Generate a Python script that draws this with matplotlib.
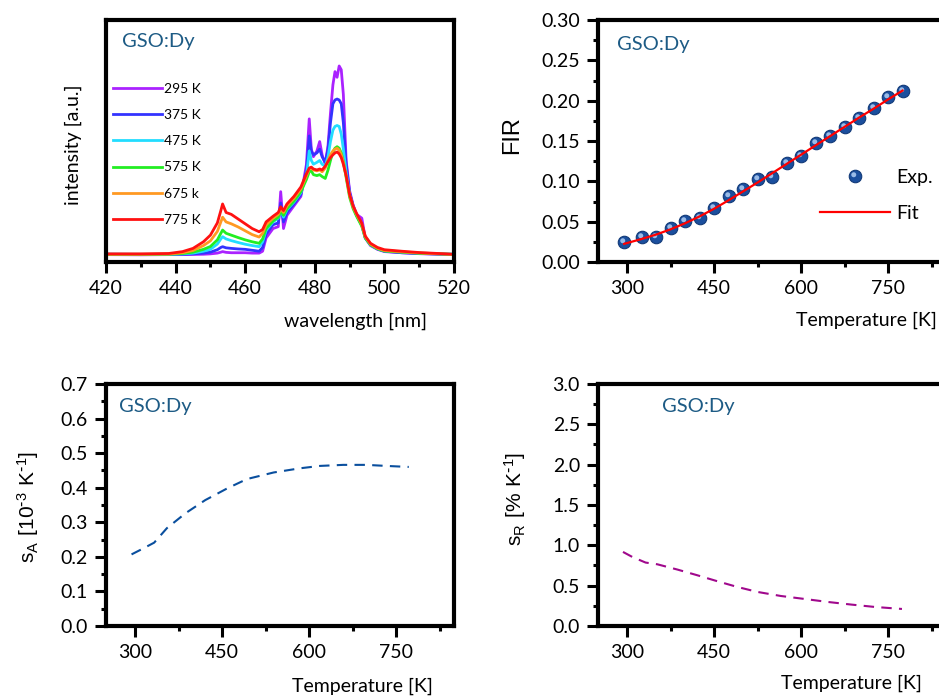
import numpy as np
import matplotlib
matplotlib.use('Agg')
import matplotlib.pyplot as plt
from matplotlib.markers import MarkerStyle
from matplotlib.transforms import Affine2D
from matplotlib.ticker import MultipleLocator, FormatStrFormatter
from matplotlib.legend_handler import HandlerTuple

plt.rcParams['font.family'] = 'Lato'

# spectra (arbitrary units, 295 K peak = 1)
wl = [420, 430, 438, 442, 445, 448, 450, 452, 453, 453.5,
      454.5, 456, 458, 460, 462, 464, 465, 466, 468, 469.5,
      470.2, 471, 472, 474, 476, 477.6, 478.4, 479, 479.6, 480.6,
      481.4, 482.1, 483, 483.8, 484.5, 485.2, 485.8, 486.4, 487, 487.6,
      488.2, 489, 490, 491, 492, 493.5, 494.5, 496, 498, 500,
      505, 510, 520]
i_295 = [0.002, 0.001, 0.002, 0.002, 0.003, 0.004, 0.006, 0.01, 0.015, 0.018,
         0.014, 0.012, 0.012, 0.012, 0.01, 0.01, 0.02, 0.09, 0.14, 0.15,
         0.335, 0.14, 0.21, 0.26, 0.31, 0.48, 0.72, 0.56, 0.52, 0.55,
         0.6, 0.53, 0.48, 0.58, 0.75, 0.9, 0.97, 0.94, 1.0, 0.98,
         0.85, 0.5, 0.34, 0.265, 0.215, 0.195, 0.09, 0.05, 0.03, 0.018,
         0.012, 0.007, 0.002]
i_375 = [0.004, 0.003, 0.003, 0.004, 0.006, 0.01, 0.015, 0.028, 0.04, 0.044,
         0.038, 0.035, 0.032, 0.03, 0.025, 0.02, 0.04, 0.11, 0.16, 0.17,
         0.275, 0.175, 0.225, 0.27, 0.32, 0.45, 0.63, 0.55, 0.53, 0.54,
         0.56, 0.52, 0.49, 0.56, 0.7, 0.8, 0.82, 0.825, 0.82, 0.8,
         0.7, 0.48, 0.33, 0.26, 0.21, 0.16, 0.09, 0.053, 0.032, 0.02,
         0.012, 0.008, 0.003]
i_475 = [0.005, 0.004, 0.004, 0.006, 0.01, 0.02, 0.03, 0.058, 0.085, 0.097,
         0.085, 0.076, 0.066, 0.057, 0.05, 0.044, 0.07, 0.13, 0.175, 0.195,
         0.245, 0.2, 0.24, 0.28, 0.33, 0.42, 0.55, 0.5, 0.48, 0.49,
         0.5, 0.48, 0.47, 0.52, 0.6, 0.66, 0.68, 0.685, 0.68, 0.64,
         0.56, 0.44, 0.32, 0.255, 0.21, 0.155, 0.092, 0.055, 0.034, 0.022,
         0.016, 0.01, 0.005]
i_575 = [0.003, 0.003, 0.004, 0.008, 0.015, 0.03, 0.045, 0.08, 0.115, 0.132,
         0.115, 0.105, 0.092, 0.08, 0.07, 0.062, 0.085, 0.14, 0.18, 0.2,
         0.235, 0.21, 0.245, 0.285, 0.335, 0.4, 0.44, 0.445, 0.425, 0.42,
         0.425, 0.415, 0.405, 0.45, 0.5, 0.545, 0.565, 0.573, 0.565, 0.54,
         0.495, 0.41, 0.305, 0.245, 0.205, 0.152, 0.09, 0.054, 0.033, 0.021,
         0.015, 0.009, 0.003]
i_675 = [0.004, 0.004, 0.005, 0.012, 0.024, 0.05, 0.075, 0.125, 0.175, 0.2,
         0.175, 0.165, 0.148, 0.128, 0.108, 0.095, 0.115, 0.16, 0.195, 0.215,
         0.245, 0.225, 0.26, 0.3, 0.35, 0.42, 0.455, 0.46, 0.45, 0.445,
         0.45, 0.44, 0.46, 0.5, 0.53, 0.55, 0.56, 0.565, 0.555, 0.53,
         0.49, 0.42, 0.315, 0.255, 0.215, 0.162, 0.097, 0.058, 0.036, 0.024,
         0.017, 0.011, 0.003]
i_775 = [0.006, 0.006, 0.008, 0.018, 0.035, 0.07, 0.105, 0.17, 0.235, 0.27,
         0.225, 0.215, 0.19, 0.165, 0.14, 0.123, 0.135, 0.175, 0.205, 0.225,
         0.255, 0.235, 0.27, 0.31, 0.36, 0.43, 0.46, 0.465, 0.455, 0.45,
         0.455, 0.45, 0.47, 0.495, 0.515, 0.53, 0.54, 0.545, 0.535, 0.515,
         0.48, 0.42, 0.32, 0.26, 0.22, 0.168, 0.1, 0.062, 0.04, 0.028,
         0.02, 0.013, 0.004]
spectra = [i_295, i_375, i_475, i_575, i_675, i_775]
spec_labels = ['295 K', '375 K', '475 K', '575 K', '675 k', '775 K']
spec_colors = ['#aa22ff', '#3333ff', '#22ddff', '#22ee22', '#ff9922', '#ff1111']

# FIR vs temperature
T_exp = [295, 325, 350, 375, 400, 425, 450, 475, 500, 525,
         550, 575, 600, 625, 650, 675, 700, 725, 750, 775]
fir_exp = [0.0243, 0.0310, 0.0305, 0.0417, 0.0508, 0.0549, 0.0673, 0.0821, 0.0904, 0.1028,
           0.1052, 0.1225, 0.1317, 0.1473, 0.1564, 0.1676, 0.1791, 0.1915, 0.2043, 0.2125]
fir_fit = [0.0225, 0.0285, 0.034, 0.0405, 0.048, 0.0565, 0.066, 0.0765, 0.0875, 0.0985,
           0.110, 0.1215, 0.133, 0.1445, 0.156, 0.1675, 0.179, 0.190, 0.2015, 0.2125]

# sensitivities
T_sa = [294, 315, 333, 355, 387, 421, 459, 493, 539, 584, 619, 659, 699, 733, 772]
s_a = [0.207, 0.225, 0.241, 0.283, 0.326, 0.364, 0.398, 0.425, 0.444, 0.456,
       0.463, 0.466, 0.466, 0.463, 0.460]
T_sr = [293, 309, 332, 352, 387, 421, 456, 490, 525, 565, 606, 646, 687, 727, 774]
s_r = [0.918, 0.856, 0.786, 0.765, 0.699, 0.629, 0.554, 0.484, 0.422, 0.372,
       0.335, 0.298, 0.265, 0.236, 0.211]

title_color = '#1d5b85'

fig = plt.figure(figsize=(9.39, 6.97), dpi=100)
w, h = 0.3706, 0.3472
ax1 = fig.add_axes([0.1129, 0.6241, w, h])
ax2 = fig.add_axes([0.6369, 0.6241, w, h])
ax3 = fig.add_axes([0.1129, 0.1019, w, h])
ax4 = fig.add_axes([0.6369, 0.1019, w, h])

for ax in [ax1, ax2, ax3, ax4]:
    for s in ax.spines.values():
        s.set_linewidth(3)
    ax.tick_params(which='both', direction='out', width=2.2, labelsize=14,
                   top=False, right=False)
    ax.tick_params(which='major', length=8, pad=5)
    ax.tick_params(which='minor', length=3.5)

# spectra
for y, lab, c in zip(spectra, spec_labels, spec_colors):
    ax1.plot(wl, y, color=c, lw=2, label=lab)
ax1.set_xlim(420, 520)
ax1.set_ylim(-0.037, 1.243)
ax1.xaxis.set_major_locator(MultipleLocator(20))
ax1.xaxis.set_minor_locator(MultipleLocator(10))
ax1.set_yticks([])
ax1.set_xlabel('wavelength [nm]', fontsize=14)
ax1.xaxis.set_label_coords(0.922, -0.247)
ax1.xaxis.label.set(ha='right', va='center')
ax1.set_ylabel('intensity [a.u.]', fontsize=14)
ax1.yaxis.set_label_coords(-0.094, 0.483)
ax1.yaxis.label.set(va='center')
ax1.text(0.045, 0.91, 'GSO:Dy', transform=ax1.transAxes, color=title_color,
         fontsize=14.5, va='center')
ax1.legend(loc='upper left', bbox_to_anchor=(0.02, 0.74), frameon=False,
           fontsize=10, handlelength=3.5, handletextpad=0.15,
           labelspacing=1.02, borderpad=0, borderaxespad=0)

# FIR
ball = MarkerStyle('o')
shine = MarkerStyle('o', transform=Affine2D().scale(0.4).translate(-0.14, 0.14))
h_ball, = ax2.plot(T_exp, fir_exp, ls='none', marker=ball, ms=9,
                   mfc='#1b4f9e', mec='#123a78', mew=0.8)
h_shine, = ax2.plot(T_exp, fir_exp, ls='none', marker=shine, ms=9,
                    mfc='#a9c8f0', mec='none', alpha=0.9)
h_fit, = ax2.plot(T_exp, fir_fit, color='#ff0000', lw=1.6)
ax2.set_xlim(250, 850)
ax2.set_ylim(0, 0.30)
ax2.xaxis.set_major_locator(MultipleLocator(150))
ax2.xaxis.set_minor_locator(MultipleLocator(75))
ax2.yaxis.set_major_locator(MultipleLocator(0.05))
ax2.yaxis.set_minor_locator(MultipleLocator(0.025))
ax2.yaxis.set_major_formatter(FormatStrFormatter('%.2f'))
ax2.set_xlabel('Temperature [K]', fontsize=14)
ax2.xaxis.set_label_coords(0.974, -0.24)
ax2.xaxis.label.set(ha='right', va='center')
ax2.set_ylabel('FIR', fontsize=17, family='Liberation Sans')
ax2.yaxis.set_label_coords(-0.248, 0.525)
ax2.yaxis.label.set(va='center')
ax2.text(0.054, 0.90, 'GSO:Dy', transform=ax2.transAxes, color=title_color,
         fontsize=14.5, va='center')
ax2.legend([(h_ball, h_shine), h_fit], ['Exp.', 'Fit'],
           handler_map={tuple: HandlerTuple(ndivide=1)},
           loc='upper left', bbox_to_anchor=(0.638, 0.385), frameon=False,
           fontsize=14, handlelength=3.6, handletextpad=0.3,
           labelspacing=1.0, borderpad=0, borderaxespad=0)

# S_A
ax3.plot(T_sa, s_a, color='#0a4f9e', lw=1.5, ls=(0, (5, 3.5)))
ax3.set_xlim(250, 850)
ax3.set_ylim(0, 0.7)
ax3.xaxis.set_major_locator(MultipleLocator(150))
ax3.xaxis.set_minor_locator(MultipleLocator(75))
ax3.yaxis.set_major_locator(MultipleLocator(0.1))
ax3.yaxis.set_minor_locator(MultipleLocator(0.05))
ax3.yaxis.set_major_formatter(FormatStrFormatter('%.1f'))
ax3.set_xlabel('Temperature [K]', fontsize=14)
ax3.xaxis.set_label_coords(0.94, -0.25)
ax3.xaxis.label.set(ha='right', va='center')
ax3.set_ylabel(r'$\mathregular{s_A\ [10^{\text{-}3}\ K^{\text{-}1}]}$', fontsize=15,
               family='Liberation Sans')
ax3.yaxis.set_label_coords(-0.224, 0.493)
ax3.yaxis.label.set(va='center')
ax3.text(0.038, 0.906, 'GSO:Dy', transform=ax3.transAxes, color=title_color,
         fontsize=14.5, va='center')

# S_R
ax4.plot(T_sr, s_r, color='#a0088c', lw=1.5, ls=(0, (5, 3.5)))
ax4.set_xlim(250, 850)
ax4.set_ylim(0, 3.0)
ax4.xaxis.set_major_locator(MultipleLocator(150))
ax4.xaxis.set_minor_locator(MultipleLocator(75))
ax4.yaxis.set_major_locator(MultipleLocator(0.5))
ax4.yaxis.set_minor_locator(MultipleLocator(0.25))
ax4.yaxis.set_major_formatter(FormatStrFormatter('%.1f'))
ax4.set_xlabel('Temperature [K]', fontsize=14)
ax4.xaxis.set_label_coords(0.93, -0.236)
ax4.xaxis.label.set(ha='right', va='center')
ax4.set_ylabel(r'$\mathregular{s_R\ [\%\ K^{\text{-}1}]}$', fontsize=15,
               family='Liberation Sans')
ax4.yaxis.set_label_coords(-0.239, 0.525)
ax4.yaxis.label.set(va='center')
ax4.text(0.183, 0.906, 'GSO:Dy', transform=ax4.transAxes, color=title_color,
         fontsize=14.5, va='center')

fig.savefig('out.png', dpi=100)
